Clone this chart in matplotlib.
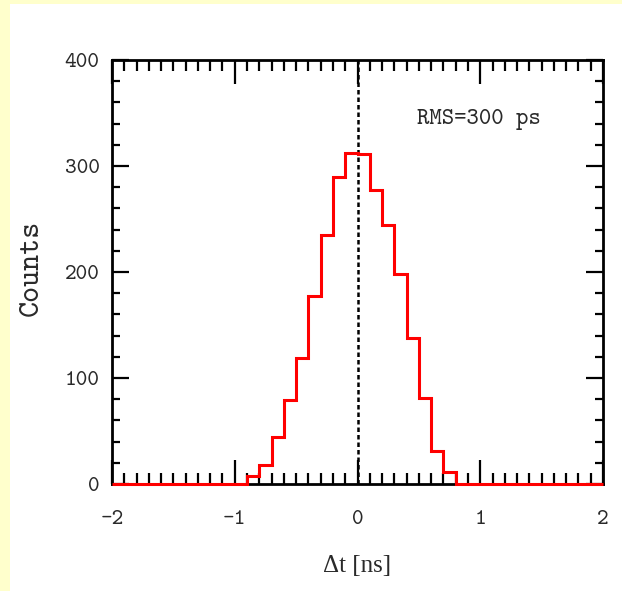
import matplotlib.pyplot as plt
import numpy as np
from matplotlib.patches import Rectangle
from matplotlib.ticker import MultipleLocator

plt.rcParams["axes.unicode_minus"] = False

# histogram of time differences, 0.1 ns bins
bin_edges = np.round(np.arange(-2.0, 2.0001, 0.1), 2)
counts = np.zeros(40)
nonzero_start = -0.9
nonzero_counts = [8, 18, 44, 79, 119, 177, 235, 290, 312, 311,
                  277, 244, 198, 138, 81, 31, 11]
first = int(round((nonzero_start + 2.0) / 0.1))
counts[first:first + len(nonzero_counts)] = nonzero_counts

rms_text = "RMS=300 ps"
x_ticks = [-2, -1, 0, 1, 2]
y_ticks = [0, 100, 200, 300, 400]

MONO = ["cmtt10", "DejaVu Sans Mono"]
TXT = "#2a2a2a"

fig = plt.figure(figsize=(6.22, 5.91), dpi=100)
fig.patch.set_facecolor("#FFFFCC")
fig.patches.append(Rectangle((10 / 622, 0), 1, 1 - 4 / 591, transform=fig.transFigure,
                             facecolor="white", edgecolor="none", zorder=-5))

ax = fig.add_axes([112 / 622, 107 / 591, 491 / 622, 424 / 591])
ax.set_zorder(2)
ax.set_xlim(-2, 2)
ax.set_ylim(0, 400)

ax.stairs(counts, bin_edges, color="#FF0000", linewidth=2.2, clip_on=False, zorder=4)
ax.axvline(0, color="black", linestyle=(0, (1.8, 1.2)), linewidth=1.8, zorder=3)

for side in ax.spines.values():
    side.set_linewidth(2.0)

ax.set_xticks(x_ticks)
ax.set_yticks(y_ticks)
ax.xaxis.set_minor_locator(MultipleLocator(0.1))
ax.yaxis.set_minor_locator(MultipleLocator(20))
ax.tick_params(which="both", direction="in", top=True, right=True, width=1.6, colors="black")
ax.tick_params(axis="both", which="major", labelsize=16, labelcolor=TXT, labelfontfamily=MONO)
ax.tick_params(axis="x", which="major", length=17, pad=19)
ax.tick_params(axis="x", which="minor", length=8)
ax.tick_params(axis="y", which="major", length=12, pad=9)
ax.tick_params(axis="y", which="minor", length=6)

ax.set_ylabel("Counts", family=MONO, fontsize=22, color=TXT)
ax.yaxis.set_label_coords(-0.137, 0.51)
ax.set_xlabel("Δt [ns]", family="Liberation Serif", fontsize=18, color=TXT)
ax.xaxis.set_label_coords(0.5, -0.167)

ax.text(0.622, 0.86, rms_text, transform=ax.transAxes, family=MONO, fontsize=17,
        color=TXT, va="center", ha="left")

fig.savefig("out.png", dpi=100, facecolor=fig.get_facecolor())
